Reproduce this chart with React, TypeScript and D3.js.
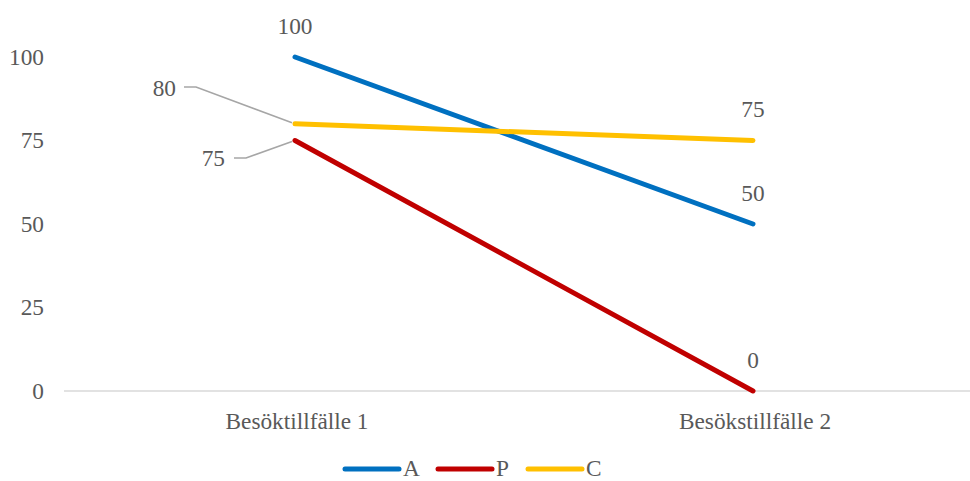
import React from "react";
import * as d3 from "d3";

const categories = ["Besöktillfälle 1", "Besökstillfälle 2"];
const seriesNames = ["A", "P", "C"];
const valuesA = [100, 50];
const valuesP = [75, 0];
const valuesC = [80, 75];
const yTicks = [0, 25, 50, 75, 100];
const colors = ["#0070C0", "#C00000", "#FFC000"];

const W = 970;
const H = 481;
const FONT = "'Liberation Serif', 'Times New Roman', serif";
const TXT = "#595959";
const FS = 23.3;

export default function App() {
  const x = d3.scalePoint<string>().domain(categories).range([295, 753]);
  const y = d3.scaleLinear().domain([0, 100]).range([391, 57]);
  const series = [valuesA, valuesP, valuesC];
  const line = d3
    .line<number>()
    .x((_, i) => x(categories[i]) as number)
    .y((d) => y(d));

  const x0 = x(categories[0]) as number;
  const x1 = x(categories[1]) as number;

  return (
    <svg
      width={W}
      height={H}
      style={{ position: "absolute", left: 0, top: 0, background: "#fff" }}
      fontFamily={FONT}
    >
      <line x1={64} x2={W} y1={y(0)} y2={y(0)} stroke="#d9d9d9" strokeWidth={1.3} />
      {yTicks.map((t) => (
        <text key={t} x={44} y={y(t)} dy="0.33em" textAnchor="end" fontSize={FS} fill={TXT}>
          {t}
        </text>
      ))}
      {categories.map((c) => (
        <text key={c} x={(x(c) as number) + 2} y={429} textAnchor="middle" fontSize={FS} fill={TXT}>
          {c}
        </text>
      ))}
      {/* leader lines */}
      <polyline
        points={`184,87 196,87 ${x0 - 3},${y(valuesC[0]) - 1}`}
        fill="none"
        stroke="#a6a6a6"
        strokeWidth={1.5}
      />
      <polyline
        points={`234,158 246,158 ${x0 - 3},${y(valuesP[0]) + 1}`}
        fill="none"
        stroke="#a6a6a6"
        strokeWidth={1.5}
      />
      {series.map((s, i) => (
        <path
          key={seriesNames[i]}
          d={line(s) || ""}
          fill="none"
          stroke={colors[i]}
          strokeWidth={5}
          strokeLinecap="round"
        />
      ))}
      {/* data labels */}
      <text x={x0} y={y(valuesA[0]) - 31} textAnchor="middle" fontSize={FS} fill={TXT} dy="0.33em">
        {valuesA[0]}
      </text>
      <text x={x1} y={y(valuesA[1]) - 31} textAnchor="middle" fontSize={FS} fill={TXT} dy="0.33em">
        {valuesA[1]}
      </text>
      <text x={x1} y={y(valuesC[1]) - 31} textAnchor="middle" fontSize={FS} fill={TXT} dy="0.33em">
        {valuesC[1]}
      </text>
      <text x={x1} y={y(valuesP[1]) - 31} textAnchor="middle" fontSize={FS} fill={TXT} dy="0.33em">
        {valuesP[1]}
      </text>
      <text x={176} y={88} textAnchor="end" fontSize={FS} fill={TXT} dy="0.33em">
        {valuesC[0]}
      </text>
      <text x={225} y={158} textAnchor="end" fontSize={FS} fill={TXT} dy="0.33em">
        {valuesP[0]}
      </text>
      {/* legend */}
      {seriesNames.map((n, i) => {
        const lx = [345, 438, 528][i];
        return (
          <g key={n}>
            <line x1={lx} x2={lx + 54} y1={469} y2={469} stroke={colors[i]} strokeWidth={5} strokeLinecap="round" />
            <text x={lx + 58} y={476} fontSize={FS} fill={TXT}>
              {n}
            </text>
          </g>
        );
      })}
    </svg>
  );
}
